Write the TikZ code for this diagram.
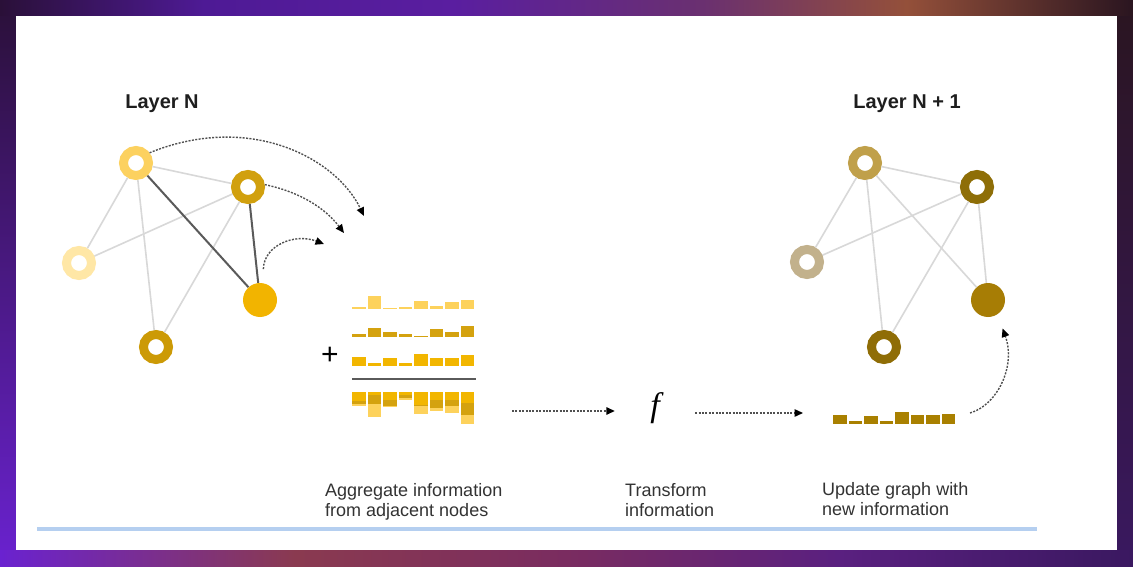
\documentclass[tikz,border=0pt]{standalone}
\usepackage{fontspec}
\setmainfont{Liberation Sans}
\newfontfamily\fnfont{Liberation Serif}
\usetikzlibrary{arrows.meta}
\definecolor{frTa}{HTML}{2A1038}\definecolor{frTb}{HTML}{4E1A95}\definecolor{frTc}{HTML}{5A1EA0}
\definecolor{frTd}{HTML}{6A3070}\definecolor{frTe}{HTML}{94503A}\definecolor{frTf}{HTML}{2A1520}
\definecolor{frBa}{HTML}{6A22D0}\definecolor{frBb}{HTML}{8A3A50}\definecolor{frBc}{HTML}{7A2C60}
\definecolor{frBd}{HTML}{5A2080}\definecolor{frBe}{HTML}{3A1860}
\definecolor{linkgray}{HTML}{D8D8D8}\definecolor{hotgray}{HTML}{5A5A5A}
\definecolor{arrgray}{HTML}{505050}\definecolor{labgray}{HTML}{333333}
\definecolor{headgray}{HTML}{1E1E1E}\definecolor{rule}{HTML}{B5CFF0}
\definecolor{barA}{HTML}{FDD25C}\definecolor{barB}{HTML}{D4A20F}\definecolor{barC}{HTML}{F2B600}
\definecolor{barU}{HTML}{A98000}
\definecolor{nA}{HTML}{FCD15F}\definecolor{nB}{HTML}{D1A00E}\definecolor{nC}{HTML}{FFE7A6}
\definecolor{nD}{HTML}{F2B400}\definecolor{nE}{HTML}{CC9A06}
\definecolor{mA}{HTML}{C0A04A}\definecolor{mB}{HTML}{8E6E07}\definecolor{mC}{HTML}{C2B18C}
\definecolor{mD}{HTML}{A77D05}\definecolor{mE}{HTML}{8F6D06}
% path box maps onto 25bp..75bp of a shading
\pgfdeclarehorizontalshading{frametop}{100bp}{color(0bp)=(frTa); color(25bp)=(frTa); color(34bp)=(frTb); color(45bp)=(frTc); color(56bp)=(frTd); color(65bp)=(frTe); color(75bp)=(frTf); color(100bp)=(frTf)}
\pgfdeclarehorizontalshading{framebot}{100bp}{color(0bp)=(frBa); color(25bp)=(frBa); color(38bp)=(frBb); color(50bp)=(frBc); color(62bp)=(frBd); color(75bp)=(frBe); color(100bp)=(frBe)}
\begin{document}
\begin{tikzpicture}[x=1pt, y=-1pt,
  ring/.style={circle, draw=#1, line width=9pt, minimum size=25pt, inner sep=0pt, fill=white},
  hub/.style={circle, fill=#1, minimum size=34pt, inner sep=0pt},
  link/.style={draw=linkgray, line width=1.6pt},
  hot/.style={draw=hotgray, line width=2pt},
  msg/.style={draw=arrgray, line width=1.4pt, dash pattern=on 2pt off 1.4pt,
    -{Triangle[length=8.5pt, width=7.5pt, color=black]}},
  lab/.style={font=\fontsize{18}{20}\selectfont, text=labgray, align=left, inner sep=0pt, anchor=north west},
  head/.style={font=\bfseries\fontsize{20}{24}\selectfont, text=headgray}]
  \useasboundingbox (0,0) rectangle (1133,567);
  % frame and panel
  \shade[top color=frTa, bottom color=frBa] (0,0) rectangle (20,567);
  \shade[top color=frTf, bottom color=frBe] (1113,0) rectangle (1133,567);
  \shade[shading=frametop] (0,0) rectangle (1133,16);
  \shade[shading=framebot] (0,550) rectangle (1133,567);
  \fill[white] (16,16) rectangle (1117,550);
  \draw[rule, line width=4pt] (37,529) -- (1037,529);
  % (a) layer N
  \node[head] (hdl) at (162,104) {Layer N};
  \node[ring=nA] (a1) at (136,163) {};
  \node[ring=nB] (a2) at (248,187) {};
  \node[ring=nC] (a3) at (79,263) {};
  \node[hub=nD]  (a4) at (260,300) {};
  \node[ring=nE] (a5) at (156,347) {};
  \foreach \u/\v in {a1/a2,a1/a3,a1/a5,a2/a3,a2/a5}{\draw[link] (\u) -- (\v);}
  \foreach \u/\v in {a1/a4,a2/a4}{\draw[hot] (\u) -- (\v);}
  \coordinate (m1) at (364,216);
  \coordinate (m2) at (344,233);
  \coordinate (m3) at (324,244);
  \draw[msg] (a1.37) .. controls (250,112) and (336,158) .. (m1);
  \draw[msg] (a2.8) .. controls (300,192) and (325,208) .. (m2);
  \draw[msg, shorten <=14pt] (a4.80) .. controls (264,245) and (295,233) .. (m3);
  % (b) aggregation
  \node[font=\fontsize{30}{30}\selectfont] (plus) at (330,356) {+};
  \foreach \h [count=\k] in {2,13,1,2,8,2.5,7,9}{\fill[barA] (336.5+15.5*\k,308.5) rectangle ++(13.5,-\h);}
  \foreach \h [count=\k] in {3,9,5.5,3,1,8,5.5,11.5}{\fill[barB] (336.5+15.5*\k,337) rectangle ++(13.5,-\h);}
  \foreach \h [count=\k] in {9,3,8,3,12.5,8,8,11}{\fill[barC] (336.5+15.5*\k,366) rectangle ++(13.5,-\h);}
  \draw[hotgray, line width=1.5pt] (352,379) -- (476,379);
  \foreach \p/\q/\r [count=\k] in {9/3/2,3/9/13,8/5.5/1,3/3/2,12.5/1/8,8/8/2.5,8/5.5/7,11/11.5/9}{
    \fill[barC] (336.5+15.5*\k,392) rectangle ++(13.5,\p);
    \fill[barB] (336.5+15.5*\k,392+\p) rectangle ++(13.5,\q);
    \fill[barA] (336.5+15.5*\k,392+\p+\q) rectangle ++(13.5,\r);}
  \node[lab] (aggtxt) at (325,483) {Aggregate information\\from adjacent nodes};
  % (c) transform
  \coordinate (aggout) at (512,411);
  \node[minimum width=80pt, font=\fnfont\itshape\fontsize{34}{34}\selectfont] (fn) at (655,408) {f};
  \coordinate (updin) at (803,413);
  \draw[msg] (aggout) -- (aggout -| fn.west);
  \draw[msg] (fn.east |- updin) -- (updin);
  \node[lab] (trtxt) at (625,483) {Transform\\information};
  % (d) layer N + 1
  \foreach \h [count=\k] in {9,3,8,3,12,9.5,9.5,10.5}{\fill[barU] (817.5+15.5*\k,424) rectangle ++(13.5,-\h);}
  \node[lab] (uptxt) at (822,482) {Update graph with\\new information};
  \node[head] (hdr) at (907,104) {Layer N + 1};
  \node[ring=mA] (b1) at (865,163) {};
  \node[ring=mB] (b2) at (977,187) {};
  \node[ring=mC] (b3) at (807,262) {};
  \node[hub=mD]  (b4) at (988,300) {};
  \node[ring=mE] (b5) at (884,347) {};
  \foreach \u/\v in {b1/b2,b1/b3,b1/b5,b1/b4,b2/b3,b2/b5,b2/b4}{\draw[link] (\u) -- (\v);}
  \coordinate (updout) at (970,413);
  \draw[msg, shorten >=15pt] (updout) .. controls (998,405) and (1016,365) .. (b4.-57);
\end{tikzpicture}
\end{document}
